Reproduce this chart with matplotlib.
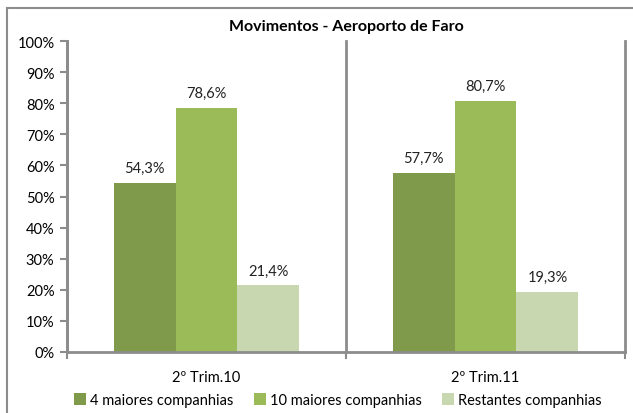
import matplotlib.pyplot as plt
import numpy as np
from matplotlib.patches import Rectangle

plt.rcParams['font.family'] = ['Lato', 'DejaVu Sans']

categories = ["2º Trim.10", "2º Trim.11"]
series_names = ["4 maiores companhias", "10 maiores companhias", "Restantes companhias"]
values = [
    [54.3, 57.7],   # 4 maiores
    [78.6, 80.7],   # 10 maiores
    [21.4, 19.3],   # restantes
]
colors = ["#7F9A4A", "#9BBB59", "#C9D7B0"]
grey = "#8C8C8C"

fig = plt.figure(figsize=(6.33, 4.14), dpi=100)
# outer chart frame (right and bottom run off the picture)
fig.patches.append(Rectangle((7 / 633, -0.1), 1.2, 1 - 9 / 414 + 0.1,
                             transform=fig.transFigure, fill=False,
                             edgecolor=grey, linewidth=1.5))

ax = fig.add_axes([67 / 633, 1 - 353 / 414, (625 - 67) / 633, (353 - 42) / 414])

x = np.arange(len(categories))
w = 0.222
for i, (name, vals, c) in enumerate(zip(series_names, values, colors)):
    pos = x + (i - 1) * w
    ax.bar(pos, vals, width=w, color=c, label=name, zorder=2)
    for p, v in zip(pos, vals):
        ax.text(p, v + 2.5, f"{v:.1f}%".replace(".", ","), ha="center",
                va="bottom", fontsize=10.5, color="#222222")

ax.set_xlim(-0.5, len(categories) - 0.5)
ax.set_ylim(0, 100)
ax.set_yticks(np.arange(0, 101, 10))
ax.set_yticklabels([f"{t}%" for t in range(0, 101, 10)])
ax.set_xticks(x)
ax.set_xticklabels(categories)
ax.tick_params(axis="x", length=0, pad=13, labelsize=10.5)
ax.tick_params(axis="y", length=5, width=1.5, color=grey, labelsize=10.5, pad=4)

# category separators / boundary ticks
for b in np.arange(-0.5, len(categories), 1.0):
    ax.plot([b, b], [0, 100], color=grey, lw=2, zorder=1, clip_on=False)
    ax.plot([b, b], [0, -2], color=grey, lw=1.5, clip_on=False)

for s in ["top", "right"]:
    ax.spines[s].set_visible(False)
ax.spines["left"].set_color(grey)
ax.spines["left"].set_linewidth(2)
ax.spines["bottom"].set_color(grey)
ax.spines["bottom"].set_linewidth(2)

fig.text(346 / 633, 1 - 27 / 414, "Movimentos - Aeroporto de Faro", ha="center",
         va="center", fontsize=11.5, fontweight="bold")

fig.legend(loc="center", bbox_to_anchor=(338 / 633, 1 - 401 / 414), ncol=3,
           frameon=False, fontsize=10.5, handlelength=0.8, handleheight=0.8,
           handletextpad=0.3, columnspacing=1.4, borderpad=0)

fig.savefig("out.png", dpi=100)
